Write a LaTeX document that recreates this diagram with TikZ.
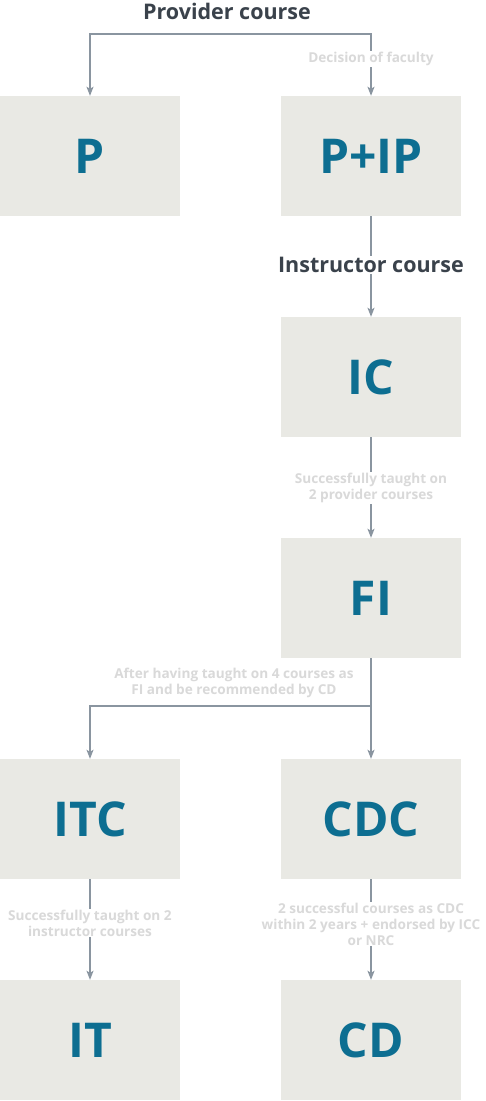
\documentclass[tikz,border=0pt]{standalone}
\usepackage{fontspec}
\setmainfont{Open Sans}
\usetikzlibrary{arrows.meta,positioning}
\definecolor{BoxFill}{RGB}{233,233,228}
\definecolor{LevelBlue}{RGB}{13,110,145}
\definecolor{LinkGray}{RGB}{138,149,160}
\definecolor{NoteGray}{RGB}{217,217,217}
\definecolor{TitleDark}{RGB}{58,66,75}

\begin{document}
\begin{tikzpicture}[x=1pt,y=-1pt,>={Stealth[length=9pt,width=7pt,inset=2pt]},
    level/.style={fill=BoxFill,minimum width=180pt,minimum height=120pt,inner sep=0pt,
      text=LevelBlue,font=\fontsize{48}{52}\selectfont\bfseries},
    link/.style={->,LinkGray,line width=1.6pt},
    note/.style={fill=white,inner sep=1pt,text=NoteGray,align=center,
      font=\fontsize{13.6}{16}\selectfont\bfseries},
    heading/.style={fill=white,inner sep=1pt,text=TitleDark,
      font=\fontsize{21.5}{24}\selectfont\bfseries}]
  \useasboundingbox (0,0) rectangle (486,1101);
  % levels
  \node[level] (p)   at (90,156)  {P};
  \node[level] (pip) at (371,156) {P+IP};
  \node[level] (ic)  at (371,377) {IC};
  \node[level] (fi)  at (371,598) {FI};
  \node[level] (itc) at (90,819)  {ITC};
  \node[level] (cdc) at (371,819) {CDC};
  \node[level] (it)  at (90,1040) {IT};
  \node[level] (cd)  at (371,1040){CD};
  % branch points
  \coordinate (top) at (230,34);
  \coordinate (split) at (371,706);
  % connectors
  \draw[link] (top) -| (p.north);
  \draw[link] (top) -| (pip.north);
  \draw[link] (pip) -- (ic);
  \draw[link] (ic) -- (fi);
  \draw[LinkGray,line width=1.6pt] (fi.south) -- (split);
  \draw[link] (split) -| (itc.north);
  \draw[link] (split) -- (cdc.north);
  \draw[link] (itc) -- (it);
  \draw[link] (cdc) -- (cd);
  % labels
  \node[heading] (provider) at (227,11) {Provider course};
  \node[note] (faculty) at (371,59) {Decision of faculty};
  \node[heading] (instructor) at (371,265) {Instructor course};
  \node[note] (taughtp) at (371,488) {Successfully taught on\\2 provider courses};
  \node[note] (fourcourses) at (234,683) {After having taught on 4 courses as\\FI and be recommended by CD};
  \node[note] (taughti) at (90,923) {Successfully taught on 2\\instructor courses};
  \node[note] (endorsed) at (371,924) {2 successful courses as CDC\\within 2 years + endorsed by ICC\\or NRC};
\end{tikzpicture}
\end{document}
